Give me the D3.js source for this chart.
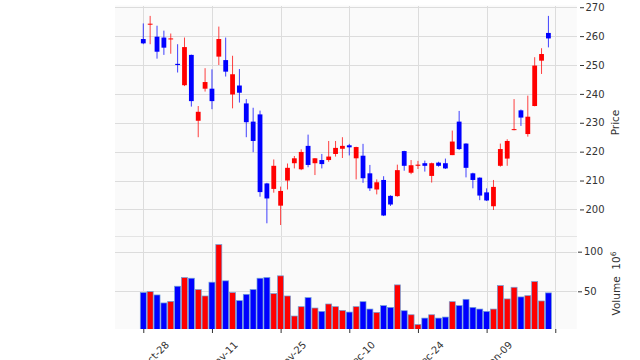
<!DOCTYPE html>
<html><head><meta charset="utf-8">
<script src="https://cdn.jsdelivr.net/npm/d3@7"></script>
<style>
body{margin:0;background:#fff}
svg{display:block;font-family:"DejaVu Sans",sans-serif}
</style>
</head><body>
<svg id="c" width="640" height="360"></svg>
<script>
// ---- data (values in price units / millions of shares) ----
const openP  = [259.0,264.0,259.8,259.5,259.0,250.4,243.0,253.5,230.7,241.8,
                241.8,252.9,251.7,239.8,242.9,236.7,230.4,232.9,209.0,207.1,
                201.3,210.0,216.0,213.9,222.0,216.0,217.1,217.1,219.2,221.0,
                222.2,217.7,218.6,212.5,206.9,210.2,204.7,204.6,220.2,212.7,
                215.1,216.0,211.6,216.2,216.0,218.8,230.4,222.8,212.5,211.0,
                205.9,201.1,215.1,217.6,227.6,234.3,226.1,235.8,251.5,261.1];
const highP  = [264.4,267.0,263.6,261.9,260.9,257.2,259.5,253.6,235.8,248.9,
                248.5,263.3,259.5,253.2,248.6,238.2,235.2,234.2,209.2,217.3,
                207.9,215.9,218.5,220.8,225.9,217.8,219.2,223.7,223.7,225.0,
                222.7,221.7,222.7,215.4,210.4,211.5,204.9,215.5,220.3,217.1,
                216.8,216.9,216.2,216.5,217.6,227.3,234.1,222.9,212.7,211.1,
                207.3,210.2,222.8,224.3,238.2,234.6,239.4,252.7,255.8,267.0];
const lowP   = [257.2,257.2,252.2,253.5,253.9,247.4,242.7,235.6,225.0,240.8,
                234.7,250.0,246.0,235.0,237.0,225.0,219.8,204.4,195.2,205.8,
                194.6,206.9,214.2,213.6,214.6,211.9,214.2,216.5,218.3,217.8,
                218.7,210.4,209.2,206.4,205.2,197.7,201.2,204.4,213.4,212.2,
                214.0,213.1,209.3,214.8,214.0,218.8,220.6,211.1,207.3,203.2,
                202.9,199.8,214.8,215.1,227.4,228.9,225.2,235.7,246.9,256.1];
const closeP = [257.5,264.3,254.6,256.0,259.2,250.0,256.2,237.5,233.8,244.1,
                237.5,259.0,247.7,246.8,240.4,230.2,223.7,206.0,203.8,215.1,
                206.4,214.4,217.7,219.9,215.4,217.7,215.7,218.3,221.3,222.0,
                221.5,221.6,210.8,207.3,209.4,197.9,201.7,213.6,215.1,215.3,
                215.5,215.1,216.0,215.1,214.2,223.5,220.9,214.4,210.2,204.8,
                203.1,207.8,220.9,223.7,227.8,231.8,232.1,249.8,253.8,259.2];
const volume = [48.4,49.6,45.4,35.3,37.3,56.4,67.4,66.5,52.2,44.1,
                61.5,108.9,63.2,48.4,38.2,46.2,52.2,66.5,67.4,47.1,
                69.5,44.1,18.8,30.6,42.0,28.9,24.6,34.0,30.6,25.9,
                23.8,30.6,36.9,27.6,23.4,31.9,29.7,58.1,25.5,20.4,
                8.1,16.2,20.4,16.2,17.5,36.9,31.9,39.9,29.7,27.6,
                24.6,27.6,57.2,40.4,55.1,42.9,44.5,62.3,37.8,48.0];
const xTickIndex  = [0,10,20,30,40,50,60];
const xTickLabels = ["Oct-28","Nov-11","Nov-25","Dec-10","Dec-24","Jan-09",""];
const priceTicks  = [200,210,220,230,240,250,260,270];
const volumeTicks = [50,100];

// ---- layout ----
const L = 115, R = 576.7, PT = 5.5, PB = 236, VT = 236, VB = 329;
const UP = "#ff0000", DOWN = "#0000ff";
const n = closeP.length;
const idx = d3.range(n);

const x  = d3.scaleLinear().domain([-4.12, n - 1 + 4.12]).range([L, R]);
const yP = d3.scaleLinear().domain([190.8, 270.6]).range([PB, PT]);
const yV = d3.scaleLinear().domain([0.3 * d3.min(volume), 1.1 * d3.max(volume)]).range([VB, VT]);

const svg = d3.select("#c");
const defs = svg.append("defs");
defs.append("clipPath").attr("id","cp").append("rect").attr("x",L).attr("y",PT).attr("width",R-L).attr("height",PB-PT);
defs.append("clipPath").attr("id","cv").append("rect").attr("x",L).attr("y",VT).attr("width",R-L).attr("height",VB-VT);

// backgrounds
svg.append("rect").attr("x",L).attr("y",PT).attr("width",R-L).attr("height",PB-PT).attr("fill","#fafafa");
svg.append("rect").attr("x",L).attr("y",VT).attr("width",R-L).attr("height",VB-VT).attr("fill","#fafafa");

const gridC = "#dcdcdc";
const grid = svg.append("g").attr("stroke",gridC).attr("stroke-width",1).attr("shape-rendering","crispEdges");
xTickIndex.forEach(i => {
  const xx = Math.round(x(i)) + 0.5;
  grid.append("line").attr("x1",xx).attr("x2",xx).attr("y1",PT).attr("y2",VB);
});
priceTicks.forEach(v => {
  const yy = Math.round(yP(v)) + 0.5;
  grid.append("line").attr("x1",L).attr("x2",R).attr("y1",yy).attr("y2",yy);
});
volumeTicks.forEach(v => {
  const yy = Math.round(yV(v)) + 0.5;
  grid.append("line").attr("x1",L).attr("x2",R).attr("y1",yy).attr("y2",yy);
});
grid.append("line").attr("x1",L).attr("x2",R).attr("y1",PB+0.5).attr("y2",PB+0.5).attr("stroke","#e4e4e4");

// candles
const col = i => closeP[i] >= openP[i] ? UP : DOWN;
const cg = svg.append("g").attr("clip-path","url(#cp)");
cg.selectAll("line.w").data(idx).join("line").attr("class","w")
  .attr("x1", i => x(i)).attr("x2", i => x(i))
  .attr("y1", i => yP(highP[i])).attr("y2", i => yP(lowP[i]))
  .attr("stroke", col).attr("stroke-width", 1).attr("stroke-opacity", 0.75);
const bw = 4.8;
cg.selectAll("rect.b").data(idx).join("rect").attr("class","b")
  .attr("x", i => x(i) - bw/2).attr("width", bw)
  .attr("y", i => yP(Math.max(openP[i], closeP[i])))
  .attr("height", i => Math.max(1, Math.abs(yP(openP[i]) - yP(closeP[i]))))
  .attr("fill", col);

// volume
const vg = svg.append("g").attr("clip-path","url(#cv)");
const vw = 6;
vg.selectAll("rect").data(idx).join("rect")
  .attr("x", i => x(i) - vw/2).attr("width", vw)
  .attr("y", i => yV(volume[i])).attr("height", i => yV(0) - yV(volume[i]))
  .attr("fill", col).attr("stroke","#6f9fd8").attr("stroke-width",0.7);

// axes
function styleAxis(g){
  g.select(".domain").remove();
  g.selectAll(".tick line").attr("stroke","#333");
  g.selectAll(".tick text").attr("fill","#333").attr("font-size",10).attr("font-family","DejaVu Sans");
}
svg.append("g").attr("transform",`translate(580,0)`)
  .call(d3.axisRight(yP).tickValues(priceTicks).tickSize(4).tickPadding(1.5).tickFormat(d3.format("d")))
  .call(styleAxis);
svg.append("g").attr("transform",`translate(578,0)`)
  .call(d3.axisRight(yV).tickValues(volumeTicks).tickSize(4).tickPadding(2).tickFormat(d3.format("d")))
  .call(styleAxis);
const xa = svg.append("g").attr("transform",`translate(0,${VB})`)
  .call(d3.axisBottom(x).tickValues(xTickIndex).tickSize(4).tickFormat((d,k) => xTickLabels[k]))
  .call(styleAxis);
xa.selectAll(".tick text")
  .attr("text-anchor","end").attr("dy",null).attr("y",null)
  .attr("transform","translate(26,16.5) rotate(-45)");

// axis titles
svg.append("text").attr("transform","translate(619,122.5) rotate(-90)")
  .attr("text-anchor","middle").attr("font-size",10.5).attr("fill","#333").text("Price");
const vt = svg.append("text").attr("transform","translate(620,283.5) rotate(-90)")
  .attr("text-anchor","middle").attr("font-size",10.5).attr("fill","#333");
vt.append("tspan").text("Volume\u00a0\u00a010");
vt.append("tspan").attr("font-size",7.5).attr("dy",-4).text("6");
</script>
</body></html>
